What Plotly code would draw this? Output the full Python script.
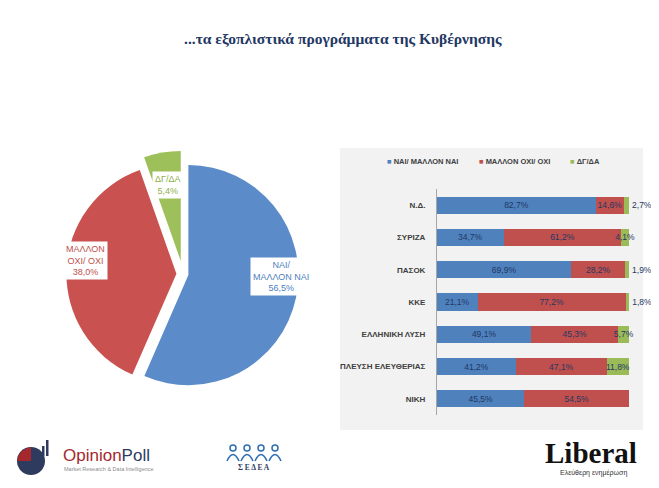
import math
import plotly.graph_objects as go

# page offset of the plot div (browser default body margin)
OFF = 8
FW, FH = 659 - OFF, 488 - OFF


def X(px):
    return (px - OFF) / FW


def Y(py):
    return 1 - (py - OFF) / FH


title_text = "...τα εξοπλιστικά προγράμματα της Κυβέρνησης"

# Pie data
pie_labels = ["ΝΑΙ/ ΜΑΛΛΟΝ ΝΑΙ", "ΜΑΛΛΟΝ ΟΧΙ/ ΟΧΙ", "ΔΓ/ΔΑ"]
pie_label_lines = ["ΝΑΙ/<br>ΜΑΛΛΟΝ ΝΑΙ", "ΜΑΛΛΟΝ<br>ΟΧΙ/ ΟΧΙ", "ΔΓ/ΔΑ"]
pie_values = [56.5, 38.0, 5.4]

# Bar data
parties = ["Ν.Δ.", "ΣΥΡΙΖΑ", "ΠΑΣΟΚ", "ΚΚΕ", "ΕΛΛΗΝΙΚΗ ΛΥΣΗ", "ΠΛΕΥΣΗ ΕΛΕΥΘΕΡΙΑΣ", "ΝΙΚΗ"]
yes_vals = [82.7, 34.7, 69.9, 21.1, 49.1, 41.2, 45.5]
no_vals = [14.6, 61.2, 28.2, 77.2, 45.3, 47.1, 54.5]
dk_vals = [2.7, 4.1, 1.9, 1.8, 5.7, 11.8, 0.0]
series_names = ["ΝΑΙ/ ΜΑΛΛΟΝ ΝΑΙ", "ΜΑΛΛΟΝ ΟΧΙ/ ΟΧΙ", "ΔΓ/ΔΑ"]

BLUE = "#4F81BD"
RED = "#C0504D"
GREEN = "#9BBB59"
PIE_COLORS = ["#5B8BC9", "#C9514F", "#9DC05A"]
TXT = "#1F3864"
SANS = "Liberation Sans"


def fmt(v):
    return f"{v:.1f}".replace(".", ",") + "%"


fig = go.Figure()

# ---- Pie ----
cx_px, cy_px = 183, 274
pulls = [0.05, 0.06, 0.12]
r_px = 110
side = 2 * r_px * (1 + max(pulls))
fig.add_trace(go.Pie(
    labels=pie_labels, values=pie_values, sort=False, direction="clockwise",
    rotation=0, pull=pulls, textinfo="none", hoverinfo="label+value",
    marker=dict(colors=PIE_COLORS, line=dict(color="white", width=0)),
    domain=dict(x=[X(cx_px - side / 2), X(cx_px + side / 2)],
                y=[Y(cy_px + side / 2), Y(cy_px - side / 2)]),
    showlegend=False,
))

# pie labels placed from slice angles
total = sum(pie_values)
cum = 0.0
label_frac = [0.86, 0.83, 0.70]
label_dy = [-18, -10, 0]
label_colors = ["#4F81BD", "#C0504D", "#8DB04A"]
for i, v in enumerate(pie_values):
    mid = (cum + v / 2) / total * 360.0
    cum += v
    d = r_px * (label_frac[i] + pulls[i])
    xp = cx_px + d * math.sin(math.radians(mid))
    yp = cy_px - d * math.cos(math.radians(mid)) + label_dy[i]
    fig.add_annotation(
        x=X(xp), y=Y(yp), xref="paper", yref="paper", xanchor="center", yanchor="middle",
        text=pie_label_lines[i] + "<br>" + fmt(v), showarrow=False,
        font=dict(family=SANS, size=9, color=label_colors[i]),
        bgcolor="white", borderpad=2, align="center",
    )

# ---- Bars ----
bar_series = [yes_vals, no_vals, dk_vals]
bar_colors = [BLUE, RED, GREEN]
for k, (name, vals, col) in enumerate(zip(series_names, bar_series, bar_colors)):
    if k == 2:
        tpos = ["outside" if v < 3 else "inside" for v in vals]
    else:
        tpos = "inside"
    fig.add_trace(go.Bar(
        y=parties, x=vals, orientation="h", name=name,
        marker=dict(color=col, line=dict(width=0)),
        text=[fmt(v) if v > 0 else "" for v in vals],
        textposition=tpos, insidetextanchor="middle", textangle=0,
        constraintext="none", cliponaxis=False,
        textfont=dict(family=SANS, size=8.5, color=TXT),
        outsidetextfont=dict(family=SANS, size=8.5, color=TXT),
        showlegend=False,
    ))

fig.update_layout(
    width=FW, height=FH, margin=dict(l=0, r=0, t=0, b=0),
    paper_bgcolor="white", plot_bgcolor="rgba(0,0,0,0)",
    separators=",.",
    barmode="stack", bargap=0.47,
    xaxis=dict(domain=[X(437), X(630)], range=[0, 100.5], visible=False, fixedrange=True),
    yaxis=dict(domain=[Y(415), Y(189)], autorange="reversed", showgrid=False,
               showline=True, linecolor="#A6A6A6", linewidth=1, ticks="",
               ticklabelstandoff=9,
               tickfont=dict(family="Liberation Sans Narrow, Liberation Sans", size=8,
                             color="#404040", weight="bold")),
    showlegend=False,
    font=dict(family=SANS),
)

# gray panel behind bar chart
fig.add_shape(type="rect", xref="paper", yref="paper",
              x0=X(340), x1=X(643), y0=Y(430), y1=Y(148),
              fillcolor="#F2F2F2", line=dict(width=0), layer="below")

# legend drawn as text
legend_x = [385, 477, 568]
for name, col, lx in zip(series_names, bar_colors, legend_x):
    fig.add_annotation(x=X(lx), y=Y(161), xref="paper", yref="paper",
                       xanchor="left", yanchor="middle", showarrow=False,
                       text=f"<span style='color:{col}'>■</span> <b>{name}</b>",
                       font=dict(family=SANS, size=7.5, color="#404040"))

# title
fig.add_annotation(x=X(343), y=Y(39), xref="paper", yref="paper",
                   xanchor="center", yanchor="middle",
                   text="<b>" + title_text + "</b>", showarrow=False,
                   font=dict(family="Liberation Serif", size=15.5, color=TXT))

# ---- Logos (decorative) ----
NAVY = "#2E3B5E"
DRED = "#A5282C"
fig.add_shape(type="circle", xref="paper", yref="paper",
              x0=X(17), x1=X(45), y0=Y(475), y1=Y(447),
              fillcolor=NAVY, line=dict(width=0))
fig.add_shape(type="path", xref="paper", yref="paper",
              path=f"M {X(31)} {Y(461)} L {X(31)} {Y(447)} Q {X(19)} {Y(449)} {X(17)} {Y(461)} Z",
              fillcolor=DRED, line=dict(width=0))
for bx, top in [(38, 452), (42, 446), (46, 440)]:
    fig.add_shape(type="rect", xref="paper", yref="paper",
                  x0=X(bx), x1=X(bx + 2.5), y0=Y(456), y1=Y(top),
                  fillcolor=NAVY, line=dict(width=0))
fig.add_annotation(x=X(61), y=Y(455), xref="paper", yref="paper",
                   xanchor="left", yanchor="middle",
                   text=f"<span style='color:{DRED}'>Opinion</span><span style='color:{NAVY}'>Poll</span>",
                   showarrow=False, font=dict(family=SANS, size=17))
fig.add_annotation(x=X(62), y=Y(469), xref="paper", yref="paper",
                   xanchor="left", yanchor="middle",
                   text="Market Research & Data Intelligence", showarrow=False,
                   font=dict(family=SANS, size=5.5, color="#8C8C8C"))

# ΣΕΔΕΑ logo
for hx in [233, 247, 261, 275]:
    fig.add_shape(type="circle", xref="paper", yref="paper",
                  x0=X(hx - 3), x1=X(hx + 3), y0=Y(451), y1=Y(445),
                  line=dict(color="#2F6DB5", width=1.5), fillcolor="rgba(0,0,0,0)")
    fig.add_shape(type="path", xref="paper", yref="paper",
                  path=f"M {X(hx-6)} {Y(461)} Q {X(hx)} {Y(448)} {X(hx+6)} {Y(461)}",
                  line=dict(color="#2F6DB5", width=1.5))
fig.add_annotation(x=X(254), y=Y(467), xref="paper", yref="paper",
                   xanchor="center", yanchor="middle",
                   text="<b>Σ Ε Δ Ε Α</b>", showarrow=False,
                   font=dict(family="Liberation Serif", size=7.5, color=NAVY))

# Liberal logo
fig.add_annotation(x=X(591), y=Y(453), xref="paper", yref="paper",
                   xanchor="center", yanchor="middle",
                   text="<b>Liberal</b>", showarrow=False,
                   font=dict(family="Liberation Serif", size=29, color="#111111"))
fig.add_annotation(x=X(593), y=Y(473), xref="paper", yref="paper",
                   xanchor="center", yanchor="middle",
                   text="Ελεύθερη ενημέρωση", showarrow=False,
                   font=dict(family=SANS, size=7, color="#333333"))

fig.write_html("out.html")
